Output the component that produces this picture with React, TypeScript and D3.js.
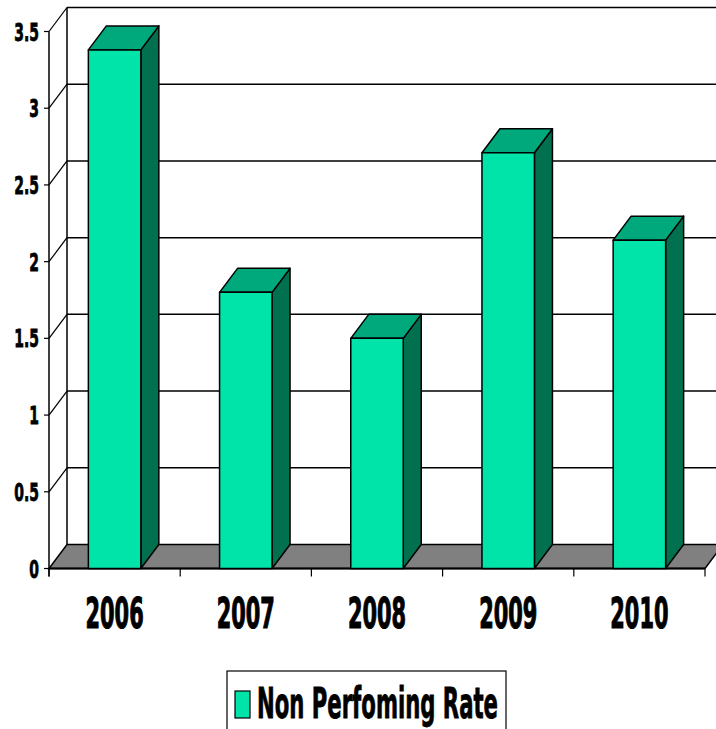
import React from "react";
import * as d3 from "d3";

const years = ["2006", "2007", "2008", "2009", "2010"];
const rates = [3.38, 1.8, 1.5, 2.71, 2.14];
const yTicks = [0, 0.5, 1, 1.5, 2, 2.5, 3, 3.5];
const seriesName = "Non Perfoming Rate";

const W = 716;
const H = 729;
const FRONT_COLOR = "#00E3A9";
const TOP_COLOR = "#00A97C";
const SIDE_COLOR = "#00704F";
const FLOOR_COLOR = "#808080";
const FONT = "'DejaVu Sans Condensed', 'DejaVu Sans', sans-serif";

export default function App() {
  const x0 = 49;
  const x1 = 705;
  const dx = 18;
  const dy = 24;
  const x = d3.scaleBand<string>().domain(years).range([x0, x1]).paddingInner(0.6).paddingOuter(0.3);
  const y = d3.scaleLinear().domain([0, 3.5]).range([568.5, 31.5]);
  const base = y(0);
  const top = y(3.5);
  const step = x.step();
  const catTicks = d3.range(years.length + 1).map((i) => x0 + i * step);
  const bw = x.bandwidth();

  return (
    <svg width={W} height={H} style={{ position: "absolute", left: 0, top: 0, background: "#fff" }}>
      {/* back wall left edge */}
      <line x1={x0 + dx} y1={base - dy} x2={x0 + dx} y2={top - dy} stroke="#000" strokeWidth={1.5} />
      {/* gridlines on back wall + diagonals */}
      {yTicks.map((t) => (
        <g key={t}>
          {t > 0 && (
            <line x1={x0 + dx} y1={y(t) - dy} x2={x1 + dx} y2={y(t) - dy} stroke="#000" strokeWidth={1.5} />
          )}
          {t > 0 && <line x1={x0} y1={y(t)} x2={x0 + dx} y2={y(t) - dy} stroke="#000" strokeWidth={1.2} />}
          <line x1={x0 - 5} y1={y(t)} x2={x0} y2={y(t)} stroke="#000" strokeWidth={1.2} />
          <text
            transform={`translate(39,${y(t) + 9}) scale(0.62,1)`}
            textAnchor="end"
            fontFamily={FONT}
            fontWeight="bold"
            fontSize={25}
            fill="#000"
            stroke="#000"
            strokeWidth={0.8}
          >
            {String(t)}
          </text>
        </g>
      ))}
      {/* floor */}
      <polygon
        points={`${x0},${base} ${x1},${base} ${x1 + dx},${base - dy} ${x0 + dx},${base - dy}`}
        fill={FLOOR_COLOR}
        stroke="#000"
        strokeWidth={1.5}
      />
      {/* front axis */}
      <line x1={x0} y1={top} x2={x0} y2={base + 8} stroke="#000" strokeWidth={1.5} />
      <line x1={x0} y1={base} x2={x1} y2={base} stroke="#000" strokeWidth={2} />
      {catTicks.map((cx, i) => (
        <line key={i} x1={cx} y1={base} x2={cx} y2={base + 8} stroke="#000" strokeWidth={1.2} />
      ))}
      {/* bars */}
      {years.map((yr, i) => {
        const bx = x(yr)!;
        const yt = y(rates[i]);
        return (
          <g key={yr} stroke="#000" strokeWidth={1.5} strokeLinejoin="round">
            <polygon
              points={`${bx + bw},${yt} ${bx + bw + dx},${yt - dy} ${bx + bw + dx},${base - dy} ${bx + bw},${base}`}
              fill={SIDE_COLOR}
            />
            <polygon
              points={`${bx},${yt} ${bx + dx},${yt - dy} ${bx + bw + dx},${yt - dy} ${bx + bw},${yt}`}
              fill={TOP_COLOR}
            />
            <rect x={bx} y={yt} width={bw} height={base - yt} fill={FRONT_COLOR} />
          </g>
        );
      })}
      {/* category labels */}
      {years.map((yr) => (
        <text
          key={yr}
          transform={`translate(${x(yr)! + bw / 2},628) scale(0.54,1)`}
          textAnchor="middle"
          fontFamily={FONT}
          fontWeight="bold"
          fontSize={43}
          fill="#000"
          stroke="#000"
          strokeWidth={1.2}
        >
          {yr}
        </text>
      ))}
      {/* legend */}
      <rect x={227} y={671} width={279} height={70} fill="#fff" stroke="#000" strokeWidth={1.2} />
      <rect x={235} y={691} width={15} height={27} fill={FRONT_COLOR} stroke="#000" strokeWidth={1.2} />
      <text
        x={257}
        y={718}
        fontFamily={FONT}
        fontWeight="bold"
        fontSize={43}
        textLength={241}
        lengthAdjust="spacingAndGlyphs"
        fill="#000"
        stroke="#000"
        strokeWidth={0.8}
      >
        {seriesName}
      </text>
    </svg>
  );
}
